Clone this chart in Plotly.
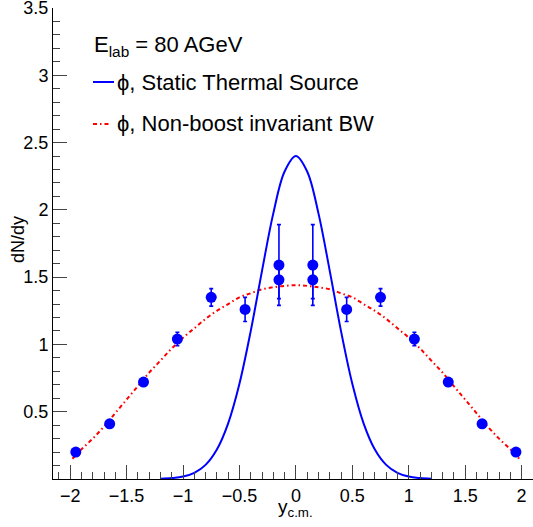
import plotly.graph_objects as go

# ---- data ----
y_cm = [-1.95, -1.65, -1.35, -1.05, -0.75, -0.45, -0.15, -0.15,
        0.15, 0.15, 0.45, 0.75, 1.05, 1.35, 1.65, 1.95]
dndy = [0.20, 0.41, 0.72, 1.04, 1.35, 1.26, 1.59, 1.48,
        1.59, 1.48, 1.26, 1.35, 1.04, 0.72, 0.41, 0.20]
dndy_err = [0.02, 0.02, 0.03, 0.05, 0.065, 0.09, 0.30, 0.14,
            0.30, 0.14, 0.09, 0.065, 0.05, 0.03, 0.02, 0.02]

thermal_x = [-1.2, -1.1, -1.0, -0.9, -0.8, -0.7, -0.6, -0.5, -0.4, -0.3, -0.2, -0.1,
             0.0, 0.1, 0.2, 0.3, 0.4, 0.5, 0.6, 0.7, 0.8, 0.9, 1.0, 1.1, 1.2]
thermal_y = [0.002, 0.007, 0.018, 0.046, 0.105, 0.219, 0.414, 0.708, 1.099, 1.547, 1.974, 2.285,
             2.40, 2.285, 1.974, 1.547, 1.099, 0.708, 0.414, 0.219, 0.105, 0.046, 0.018, 0.007, 0.002]

bw_x = [-1.98, -1.9, -1.8, -1.7, -1.6, -1.5, -1.4, -1.3, -1.2, -1.1, -1.0, -0.9, -0.8, -0.7,
        -0.6, -0.5, -0.4, -0.3, -0.2, -0.1, 0.0, 0.1, 0.2, 0.3, 0.4, 0.5, 0.6, 0.7, 0.8,
        0.9, 1.0, 1.1, 1.2, 1.3, 1.4, 1.5, 1.6, 1.7, 1.8, 1.9, 1.98]
bw_y = [0.15, 0.22, 0.30, 0.39, 0.49, 0.59, 0.69, 0.79, 0.88, 0.97, 1.05, 1.12, 1.19, 1.25,
        1.30, 1.35, 1.38, 1.41, 1.425, 1.435, 1.44, 1.435, 1.425, 1.41, 1.38, 1.35, 1.30, 1.25, 1.19,
        1.12, 1.05, 0.97, 0.88, 0.79, 0.69, 0.59, 0.49, 0.39, 0.30, 0.22, 0.15]

y_tickvals = [0.5, 1.0, 1.5, 2.0, 2.5, 3.0, 3.5]
y_ticktext = ["0.5", "1", "1.5", "2", "2.5", "3", "3.5"]

FONT = "Liberation Sans, Arial, sans-serif"

W, H = 533, 527
ML, MR, MT, MB = 53, 0, 8, 48
PW, PH = W - ML - MR, H - MT - MB


def px(xp):
    return (xp - ML) / PW


def py(yp):
    return (H - MB - yp) / PH


fig = go.Figure()

fig.add_trace(go.Scatter(
    x=bw_x, y=bw_y, mode="lines", line_shape="spline",
    line=dict(color="#ff0000", width=2, dash="4px,3px,1.5px,3px"),
    showlegend=False, hoverinfo="skip"))

fig.add_trace(go.Scatter(
    x=thermal_x, y=thermal_y, mode="lines", line_shape="spline",
    line=dict(color="#0000ff", width=2),
    showlegend=False, hoverinfo="skip"))

fig.add_trace(go.Scatter(
    x=y_cm, y=dndy, mode="markers",
    marker=dict(color="#0000ff", size=11, line=dict(width=0)),
    error_y=dict(type="data", array=dndy_err, color="#0000ff", thickness=1.6, width=2),
    showlegend=False))

# legend (drawn as text + sample lines)
fig.add_annotation(xref="paper", yref="paper", x=px(92), y=py(46),
                   xanchor="left", yanchor="middle", showarrow=False,
                   text="E<sub>lab</sub> = 80 AGeV",
                   font=dict(family=FONT, size=22, color="black"))
fig.add_annotation(xref="paper", yref="paper", x=px(115), y=py(83),
                   xanchor="left", yanchor="middle", showarrow=False,
                   text="ϕ, Static Thermal Source",
                   font=dict(family=FONT, size=22, color="black"))
fig.add_annotation(xref="paper", yref="paper", x=px(115), y=py(124),
                   xanchor="left", yanchor="middle", showarrow=False,
                   text="ϕ, Non-boost invariant BW",
                   font=dict(family=FONT, size=22, color="black"))
fig.add_shape(type="line", xref="paper", yref="paper",
              x0=px(93), x1=px(114), y0=py(82), y1=py(82),
              line=dict(color="#0000ff", width=2))
fig.add_shape(type="line", xref="paper", yref="paper",
              x0=px(93), x1=px(111), y0=py(124), y1=py(124),
              line=dict(color="#ff0000", width=2, dash="4px,3px,1.5px,3px"))

# axis titles
fig.add_annotation(xref="paper", yref="paper", x=px(18), y=py(240),
                   xanchor="center", yanchor="middle", showarrow=False,
                   text="dN/dy", textangle=-90,
                   font=dict(family=FONT, size=18, color="black"))
fig.add_annotation(xref="x", yref="paper", x=0, y=py(494),
                   xanchor="center", yanchor="top", showarrow=False,
                   text="y<sub>c.m.</sub>",
                   font=dict(family=FONT, size=19, color="black"))

fig.update_xaxes(
    range=[-2.152, 2.101], tick0=0, dtick=0.5, automargin=False,
    ticklabeloverflow="allow",
    showgrid=False, zeroline=False, showline=True, linecolor="black", linewidth=1,
    ticks="inside", ticklen=14, tickcolor="#444", tickwidth=1,
    tickfont=dict(family=FONT, size=18, color="black"),
    minor=dict(tick0=0, dtick=0.1, ticks="inside", ticklen=7, tickcolor="#444", tickwidth=1),
)
fig.update_yaxes(
    range=[0, 3.5], tickmode="array", tickvals=y_tickvals, ticktext=y_ticktext,
    automargin=False, ticklabeloverflow="allow",
    showgrid=False, zeroline=False, showline=True, linecolor="black", linewidth=1,
    ticks="inside", ticklen=14, tickcolor="#444", tickwidth=1,
    tickfont=dict(family=FONT, size=18, color="black"),
    minor=dict(tickmode="linear", tick0=0, dtick=0.1, ticks="inside", ticklen=7,
               tickcolor="#444", tickwidth=1),
)

fig.update_layout(
    width=W, height=H,
    margin=dict(l=ML, r=MR, t=MT, b=MB, pad=0),
    paper_bgcolor="white", plot_bgcolor="white",
    showlegend=False,
    font=dict(family=FONT),
)

fig.write_html(
    "out.html",
    config={"responsive": False, "displayModeBar": False},
    post_script="document.body.style.margin='0';document.body.style.overflow='hidden';",
)
